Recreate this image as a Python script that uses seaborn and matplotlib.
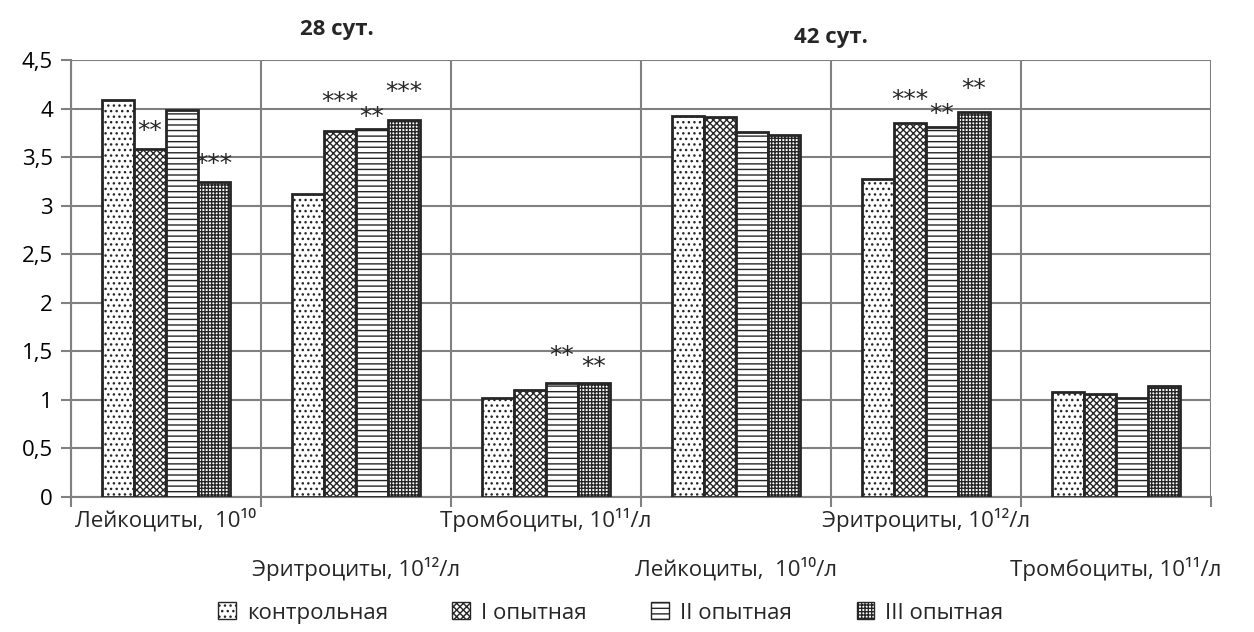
import numpy as np
import pandas as pd
import matplotlib
matplotlib.use("Agg")
import matplotlib.pyplot as plt
import matplotlib.transforms as mtransforms
import seaborn as sns

# ---------------- data ----------------
categories = ["Лейкоциты,  10¹⁰", "Эритроциты, 10¹²/л", "Тромбоциты, 10¹¹/л",
              "Лейкоциты,  10¹⁰/л", "Эритроциты, 10¹²/л", "Тромбоциты, 10¹¹/л"]
periods = ["28 сут.", "42 сут."]
groups = ["контрольная", "I опытная", "II опытная", "III опытная"]
control = [4.09, 3.12, 1.02, 3.92, 3.27, 1.08]
exp_1 = [3.58, 3.77, 1.10, 3.91, 3.85, 1.06]
exp_2 = [3.99, 3.79, 1.17, 3.76, 3.81, 1.02]
exp_3 = [3.24, 3.88, 1.175, 3.73, 3.96, 1.14]
sig_control = ["", "", "", "", "", ""]
sig_1 = ["**", "***", "", "", "***", ""]
sig_2 = ["", "**", "**", "", "**", ""]
sig_3 = ["***", "***", "**", "", "**", ""]
yticks = [0, 0.5, 1, 1.5, 2, 2.5, 3, 3.5, 4, 4.5]

# ---------------- style ----------------
hatches = ["...", "xxxxx", "---", "+++++"]
star_offsets = [
    [0, 0, 0, 0, 0, 0],
    [0.19, 0.30, 0, 0, 0.24, 0],
    [0, 0.12, 0.28, 0, 0.13, 0],
    [0.19, 0.29, 0.16, 0, 0.24, 0],
]

sns.set_style("white")
plt.rcParams["font.family"] = ["Open Sans", "DejaVu Sans"]
plt.rcParams["hatch.linewidth"] = 1.0

series = [control, exp_1, exp_2, exp_3]
sigs = [sig_control, sig_1, sig_2, sig_3]
rows = []
for g, vals in zip(groups, series):
    for i, v in enumerate(vals):
        rows.append({"cat": i, "group": g, "value": v})
df = pd.DataFrame(rows)

fig = plt.figure(figsize=(12.54, 6.32), dpi=100)
ax = fig.add_axes([71 / 1254, 1 - 497 / 632, (1211 - 71) / 1254, (497 - 60) / 632])

sns.barplot(data=df, x="cat", y="value", hue="group", hue_order=groups,
            order=list(range(len(categories))), palette=["white"] * 4,
            width=0.67, gap=0, edgecolor="#262626", linewidth=2.0,
            legend=True, ax=ax, errorbar=None, saturation=1)

for cont, h in zip(ax.containers, hatches):
    for p in cont.patches:
        p.set_hatch(h)
        p.set_edgecolor("#262626")
        p.set_zorder(3)

# significance stars
for cont, sg, offs, vals in zip(ax.containers, sigs, star_offsets, series):
    for p, s, o, v in zip(cont.patches, sg, offs, vals):
        if s:
            ax.text(p.get_x() + p.get_width() / 2, v + o, s, ha="center",
                    va="center", fontsize=18, family="DejaVu Sans", zorder=5)

ax.set_ylim(0, 4.5)
ax.set_xlim(-0.5, len(categories) - 0.5)
ax.set_yticks(yticks)
ax.set_yticklabels([("%g" % t).replace(".", ",") for t in yticks], fontsize=16)
ax.set_xticks(np.arange(-0.5, len(categories)), minor=False)
ax.set_xticklabels([])
ax.set_xlabel("")
ax.set_ylabel("")
ax.grid(True, axis="both", color="#808080", linewidth=1.5, zorder=0)
ax.set_axisbelow(True)
ax.tick_params(axis="y", which="both", left=True, length=7, width=1.5,
               color="#808080", pad=6, labelcolor="black")
ax.tick_params(axis="x", which="both", bottom=True, length=7, width=1.5,
               color="#808080")
for side in ["top", "right"]:
    ax.spines[side].set_visible(False)
for side in ["left", "bottom"]:
    ax.spines[side].set_color("#808080")
    ax.spines[side].set_linewidth(1.5)

# staggered category labels
trans = mtransforms.blended_transform_factory(ax.transData, fig.transFigure)
for i, lab in enumerate(categories):
    yy = 1 - 520 / 632 if i % 2 == 0 else 1 - 569 / 632
    ax.text(i, yy, lab, transform=trans, ha="center", va="center", fontsize=16)

# period titles
ax.text(0.9, 1 - 30 / 632, periods[0], transform=trans, ha="center", va="center",
        fontsize=16, fontweight="bold")
ax.text(3.5, 1 - 37 / 632, periods[1], transform=trans, ha="center", va="center",
        fontsize=16, fontweight="bold")

ax.get_legend().remove()
handles = [plt.Rectangle((0, 0), 1, 1, facecolor="white", edgecolor="#262626",
                         hatch=h, linewidth=1.0) for h in hatches]
fig.legend(handles, groups, loc="center", bbox_to_anchor=(0.487, 1 - 613 / 632),
           ncol=4, frameon=False, fontsize=16, handlelength=0.8, handleheight=0.8,
           columnspacing=2.9, handletextpad=0.5)

fig.savefig("out.png", dpi=100)
